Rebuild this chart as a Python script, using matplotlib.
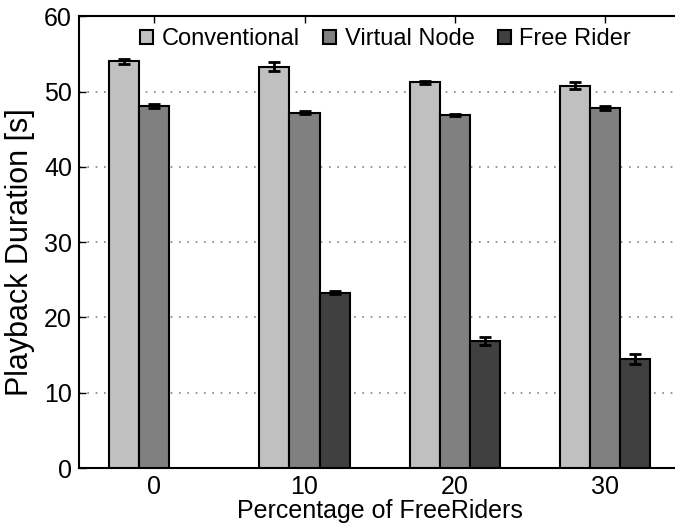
import numpy as np
import matplotlib
matplotlib.use("Agg")
import matplotlib.pyplot as plt

# data
freeriders = [0, 10, 20, 30]
conventional = [54.0, 53.3, 51.2, 50.8]
conventional_err = [0.3, 0.6, 0.15, 0.4]
virtual_node = [48.1, 47.2, 46.9, 47.8]
virtual_node_err = [0.25, 0.2, 0.15, 0.3]
free_rider = [0.0, 23.3, 16.9, 14.5]
free_rider_err = [0.0, 0.2, 0.5, 0.7]

plt.rcParams["font.family"] = ["Liberation Sans", "DejaVu Sans"]

fig = plt.figure(figsize=(6.75, 5.29), dpi=100)
ax = fig.add_axes([0.117, 0.1153, 0.891, 0.854])

x = np.array(freeriders, dtype=float)
w = 2.0
err_kw = dict(ecolor="black", elinewidth=2, capsize=4, capthick=2)

ax.bar(x - w, conventional, w, yerr=conventional_err, color="#c0c0c0",
       edgecolor="black", linewidth=1.5, label="Conventional", error_kw=err_kw, zorder=3)
ax.bar(x, virtual_node, w, yerr=virtual_node_err, color="#808080",
       edgecolor="black", linewidth=1.5, label="Virtual Node", error_kw=err_kw, zorder=3)
# no free rider bar at 0 %
fr_x = [xi + w for xi, v in zip(x, free_rider) if v > 0]
fr_v = [v for v in free_rider if v > 0]
fr_e = [e for e, v in zip(free_rider_err, free_rider) if v > 0]
ax.bar(fr_x, fr_v, w, yerr=fr_e, color="#404040",
       edgecolor="black", linewidth=1.5, label="Free Rider", error_kw=err_kw, zorder=3)

ax.set_xlim(-5, 35)
ax.set_ylim(0, 60)
ax.set_xticks(freeriders)
ax.set_yticks(range(0, 61, 10))
ax.tick_params(axis="both", direction="in", labelsize=18, width=1, length=5)
ax.tick_params(axis="x", top=True, pad=5)
ax.tick_params(axis="y", pad=5)

for yv in range(10, 60, 10):
    ax.axhline(yv, color="#808080", linestyle=(0, (1, 4)), linewidth=1.2, zorder=1)

for s in ax.spines.values():
    s.set_linewidth(1.5)

ax.set_xlabel("Percentage of FreeRiders", fontsize=18, labelpad=0)
ax.set_ylabel("Playback Duration [s]", fontsize=22)
ax.yaxis.set_label_coords(-0.073, 0.478)

ax.legend(loc="upper center", bbox_to_anchor=(0.51, 1.02), ncol=3, frameon=False,
          handlelength=0.55, handleheight=0.55, handletextpad=0.35, columnspacing=1.0,
          prop={"size": 17})

fig.savefig("out.png", dpi=100)
